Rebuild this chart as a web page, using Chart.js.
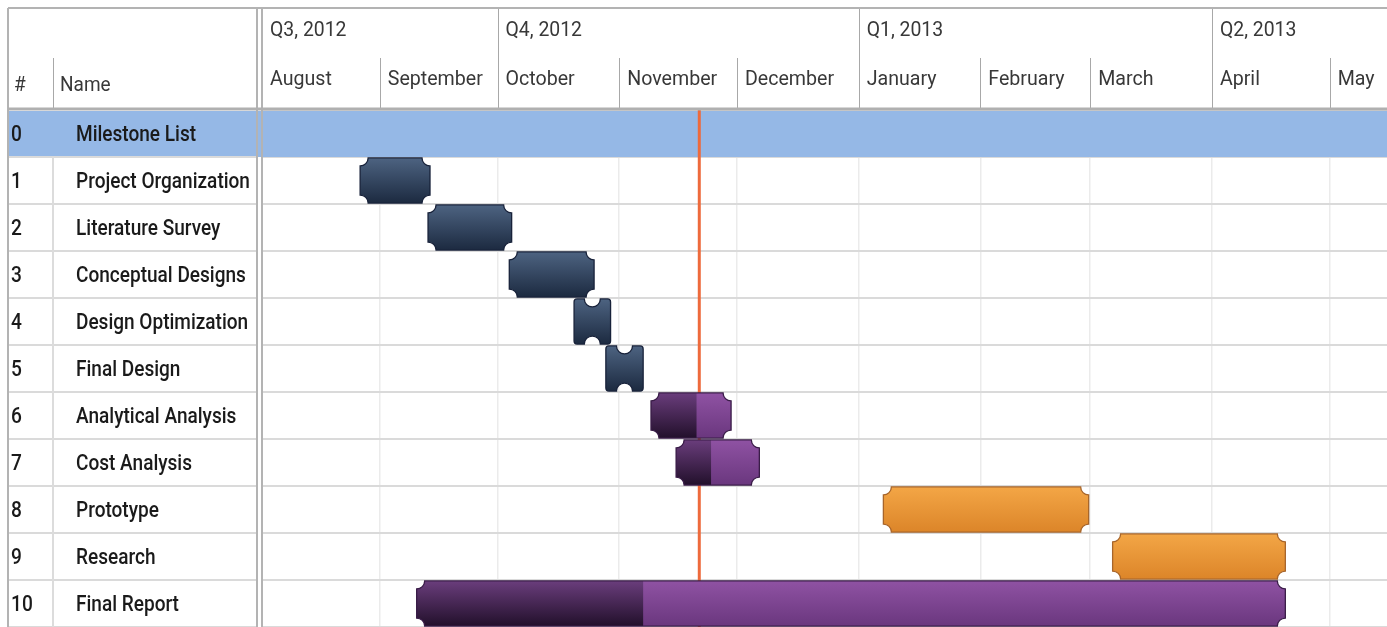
<!DOCTYPE html>
<html><head><meta charset="utf-8">
<script src="https://cdn.jsdelivr.net/npm/chart.js@4.4.0/dist/chart.umd.min.js"></script>
<style>html,body{margin:0;padding:0;background:#fff;overflow:hidden}#wrap{position:relative;width:1387px;height:627px}</style>
</head><body><div id="wrap"><canvas id="c" width="1387" height="627"></canvas></div>
<script>
// Day 0 = 1 August 2012
const rowIds = ['0','1','2','3','4','5','6','7','8','9','10'];
const taskNames = ['Milestone List','Project Organization','Literature Survey','Conceptual Designs','Design Optimization','Final Design','Analytical Analysis','Cost Analysis','Prototype','Research','Final Report'];
const startDays = [null, 26, 43.3, 64, 80.5, 88.6, 100.1, 106.5, 159.3, 217.7, 40.4];
const endDays   = [null, 43.8, 64.6, 85.6, 89.8, 98.1, 120.5, 127.7, 211.6, 261.7, 261.7];
const progressDays = [null, null, null, null, null, null, 111.7, 115.4, null, null, 98.1];
const taskKinds = ['milestone','design','design','design','design','design','analysis','analysis','build','build','analysis'];
const monthLabels = ['August','September','October','November','December','January','February','March','April','May'];
const monthStartDays = [0, 31, 61, 92, 122, 153, 184, 212, 243, 273];
const quarterLabels = ['Q3, 2012','Q4, 2012','Q1, 2013','Q2, 2013'];
const quarterStartDays = [0, 61, 153, 243];
const todayDay = 112.4;
const headerCols = ['#','Name'];

const FONT = 'Roboto, "Open Sans", sans-serif';

function ticketPath(ctx, x0, x1, y0, y1) {
  const w = x1 - x0;
  ctx.beginPath();
  if (w < 50) {
    const rr = 3, rn = 8, cx = (x0 + x1) / 2;
    ctx.moveTo(x0 + rr, y0);
    ctx.lineTo(cx - rn, y0);
    ctx.arc(cx, y0, rn, Math.PI, 0, true);
    ctx.lineTo(x1 - rr, y0);
    ctx.quadraticCurveTo(x1, y0, x1, y0 + rr);
    ctx.lineTo(x1, y1 - rr);
    ctx.quadraticCurveTo(x1, y1, x1 - rr, y1);
    ctx.lineTo(cx + rn, y1);
    ctx.arc(cx, y1, rn, 0, Math.PI, true);
    ctx.lineTo(x0 + rr, y1);
    ctx.quadraticCurveTo(x0, y1, x0, y1 - rr);
    ctx.lineTo(x0, y0 + rr);
    ctx.quadraticCurveTo(x0, y0, x0 + rr, y0);
  } else {
    const r = 8;
    ctx.moveTo(x0 + r, y0);
    ctx.lineTo(x1 - r, y0);
    ctx.arc(x1, y0, r, Math.PI, Math.PI / 2, true);
    ctx.lineTo(x1, y1 - r);
    ctx.arc(x1, y1, r, Math.PI * 1.5, Math.PI, true);
    ctx.lineTo(x0 + r, y1);
    ctx.arc(x0, y1, r, 0, -Math.PI / 2, true);
    ctx.lineTo(x0, y0 + r);
    ctx.arc(x0, y0, r, Math.PI / 2, 0, true);
  }
  ctx.closePath();
}

function grad(ctx, y0, y1, top, bottom) {
  const g = ctx.createLinearGradient(0, y0, 0, y1);
  g.addColorStop(0, top);
  g.addColorStop(1, bottom);
  return g;
}

const palette = {
  design:   {top: '#4d6381', bottom: '#1c2a40', border: '#18223a'},
  analysis: {top: '#8f52a3', bottom: '#6a377e', border: '#3a1d48', dTop: '#6a3d7c', dBottom: '#22102b'},
  build:    {top: '#f3a646', bottom: '#dc8529', border: '#a7652b'}
};

function squeezedText(ctx, t, x, y, f) {
  const w = ctx.measureText(t).width;
  ctx.fillText(t, x, y, w * f);
}

const ganttPlugin = {
  id: 'gantt',
  beforeDatasetsDraw(chart) {
    const ctx = chart.ctx, ca = chart.chartArea, y = chart.scales.y, x = chart.scales.x;
    const half = (y.getPixelForValue(1) - y.getPixelForValue(0)) / 2;
    const c0 = y.getPixelForValue(0);
    ctx.save();
    ctx.fillStyle = '#95b8e6';
    ctx.fillRect(8, c0 - half + 1, chart.width - 8, half * 2 - 1);
    const tx = x.getPixelForValue(todayDay);
    ctx.strokeStyle = '#ee6a3c';
    ctx.lineWidth = 3;
    ctx.beginPath(); ctx.moveTo(tx, ca.top); ctx.lineTo(tx, ca.bottom); ctx.stroke();
    ctx.restore();
  },
  afterDatasetsDraw(chart) {
    const ctx = chart.ctx, x = chart.scales.x;
    const meta = chart.getDatasetMeta(0);
    meta.data.forEach((el, i) => {
      if (startDays[i] == null) return;
      const p = el.getProps(['x', 'y', 'base', 'height'], true);
      const x0 = Math.min(p.x, p.base), x1 = Math.max(p.x, p.base);
      const y0 = p.y - p.height / 2, y1 = p.y + p.height / 2;
      const pal = palette[taskKinds[i]];
      ctx.save();
      ticketPath(ctx, x0, x1, y0, y1);
      ctx.fillStyle = grad(ctx, y0, y1, pal.top, pal.bottom);
      ctx.fill();
      if (progressDays[i] != null) {
        ctx.save();
        ticketPath(ctx, x0, x1, y0, y1);
        ctx.clip();
        const px = x.getPixelForValue(progressDays[i]);
        ctx.fillStyle = grad(ctx, y0, y1, pal.dTop, pal.dBottom);
        ctx.fillRect(x0 - 2, y0 - 2, px - x0 + 2, y1 - y0 + 4);
        ctx.restore();
      }
      ticketPath(ctx, x0, x1, y0, y1);
      ctx.strokeStyle = pal.border;
      ctx.lineWidth = 1.3;
      ctx.stroke();
      ctx.restore();
    });
  },
  afterDraw(chart) {
    const ctx = chart.ctx, ca = chart.chartArea, y = chart.scales.y, x = chart.scales.x;
    const W = chart.width, H = chart.height;
    const half = (y.getPixelForValue(1) - y.getPixelForValue(0)) / 2;
    ctx.save();
    ctx.strokeStyle = '#dadada';
    ctx.lineWidth = 2;
    for (let i = 0; i < rowIds.length; i++) {
      const yb = y.getPixelForValue(i) + half;
      ctx.beginPath(); ctx.moveTo(8, yb); ctx.lineTo(257, yb); ctx.stroke();
    }
    // column separator in body (not through the milestone row)
    ctx.strokeStyle = '#dcdcdc';
    ctx.beginPath(); ctx.moveTo(53, y.getPixelForValue(0) + half); ctx.lineTo(53, H); ctx.stroke();
    ctx.strokeStyle = '#a8a8a8'; ctx.lineWidth = 1;
    ctx.beginPath(); ctx.moveTo(53.5, 58); ctx.lineTo(53.5, 108); ctx.stroke();
    monthStartDays.forEach((d) => {
      const px = x.getPixelForValue(d);
      if (px <= ca.left + 2) return;
      const isQ = quarterStartDays.includes(d);
      ctx.strokeStyle = '#a8a8a8'; ctx.lineWidth = 1;
      ctx.beginPath(); ctx.moveTo(Math.round(px) + 0.5, isQ ? 8 : 58); ctx.lineTo(Math.round(px) + 0.5, 108); ctx.stroke();
    });
    ctx.strokeStyle = '#b3b3b3'; ctx.lineWidth = 2;
    ctx.beginPath(); ctx.moveTo(8, 8); ctx.lineTo(W, 8); ctx.stroke();
    ctx.beginPath(); ctx.moveTo(8, 8); ctx.lineTo(8, H); ctx.stroke();
    ctx.beginPath(); ctx.moveTo(257, 8); ctx.lineTo(257, H); ctx.stroke();
    ctx.beginPath(); ctx.moveTo(262, 8); ctx.lineTo(262, H); ctx.stroke();
    ctx.strokeStyle = '#b0b0b0'; ctx.lineWidth = 3;
    ctx.beginPath(); ctx.moveTo(8, 109); ctx.lineTo(W, 109); ctx.stroke();

    ctx.textBaseline = 'middle';
    ctx.textAlign = 'left';
    ctx.fillStyle = '#383838';
    ctx.font = '400 20px ' + FONT;
    squeezedText(ctx, headerCols[0], 14, 86, 0.95);
    squeezedText(ctx, headerCols[1], 60, 86, 0.95);
    quarterLabels.forEach((q, k) => {
      const px = Math.max(x.getPixelForValue(quarterStartDays[k]), ca.left);
      squeezedText(ctx, q, px + 8, 31, 0.97);
    });
    monthLabels.forEach((m, k) => {
      const px = Math.max(x.getPixelForValue(monthStartDays[k]), ca.left);
      squeezedText(ctx, m, px + 8, 80, 0.98);
    });
    ctx.fillStyle = '#1a1a1a';
    ctx.font = '500 22px ' + FONT;
    rowIds.forEach((id, i) => {
      const cy = y.getPixelForValue(i) + 2;
      squeezedText(ctx, id, 11, cy, 0.87);
      squeezedText(ctx, taskNames[i], 76, cy, 0.865);
    });
    ctx.restore();
  }
};

new Chart(document.getElementById('c'), {
  type: 'bar',
  data: {
    labels: taskNames,
    datasets: [{
      data: startDays.map((s, i) => s == null ? null : [s, endDays[i]]),
      backgroundColor: 'rgba(0,0,0,0)',
      borderWidth: 0,
      barPercentage: 0.96,
      categoryPercentage: 1
    }]
  },
  options: {
    indexAxis: 'y',
    responsive: false,
    animation: false,
    layout: {padding: {left: 262, top: 110, right: 0, bottom: 0}},
    plugins: {legend: {display: false}, tooltip: {enabled: false}},
    scales: {
      x: {
        type: 'linear', position: 'top', min: 1, max: 287.6,
        afterBuildTicks: s => { s.ticks = monthStartDays.filter(d => d >= s.min && d <= s.max).map(v => ({value: v})); },
        ticks: {display: false},
        grid: {color: '#ebebeb', lineWidth: 1.5, drawTicks: false},
        border: {display: false},
        afterFit: s => { s.height = 0; }
      },
      y: {
        type: 'category',
        ticks: {display: false},
        grid: {offset: true, color: '#dadada', lineWidth: 2, drawTicks: false},
        border: {display: false},
        afterFit: s => { s.width = 0; }
      }
    }
  },
  plugins: [ganttPlugin]
});
</script></body></html>
